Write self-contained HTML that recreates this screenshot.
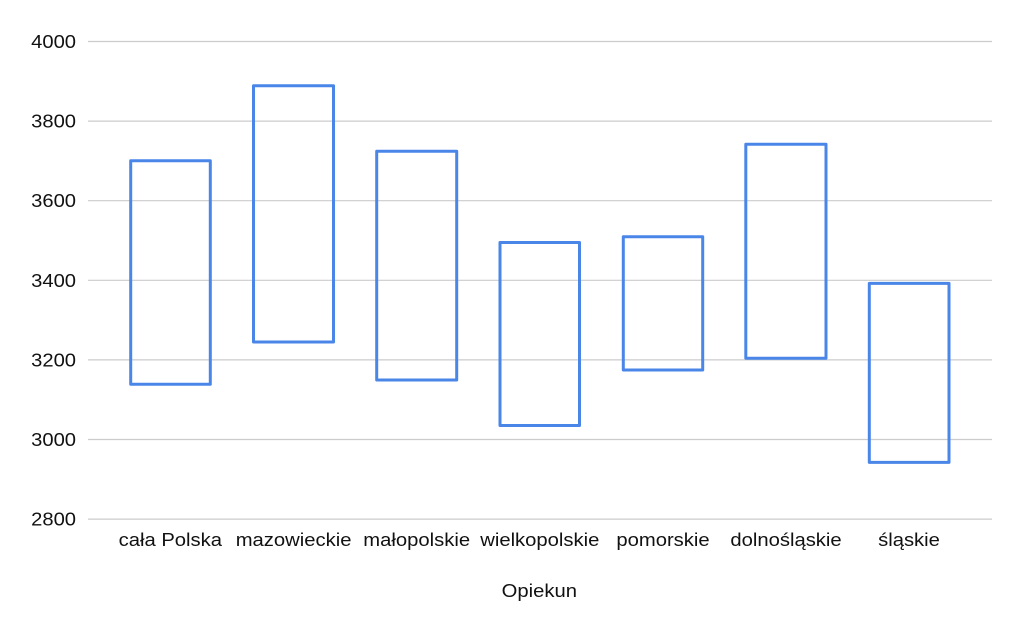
<!DOCTYPE html>
<html>
<head>
<meta charset="utf-8">
<style>
  html, body { margin: 0; padding: 0; background: #ffffff; }
  svg { display: block; }
  text { font-family: "Liberation Sans", Arial, Helvetica, sans-serif; fill: #111111; }
</style>
</head>
<body>
<svg width="1024" height="633" viewBox="0 0 1024 633" xmlns="http://www.w3.org/2000/svg">
  <rect x="0" y="0" width="1024" height="633" fill="#ffffff"/>
  <!-- gridlines -->
  <g stroke="#cccccc" stroke-width="1.2">
    <line x1="88" y1="41.5" x2="992" y2="41.5"/>
    <line x1="88" y1="121.1" x2="992" y2="121.1"/>
    <line x1="88" y1="200.7" x2="992" y2="200.7"/>
    <line x1="88" y1="280.3" x2="992" y2="280.3"/>
    <line x1="88" y1="359.9" x2="992" y2="359.9"/>
    <line x1="88" y1="439.5" x2="992" y2="439.5"/>
    <line x1="88" y1="519.1" x2="992" y2="519.1"/>
  </g>
  <!-- y-axis labels -->
  <g font-size="18.6" text-anchor="end">
    <text transform="translate(76,48) scale(1.085,1)">4000</text>
    <text transform="translate(76,127.6) scale(1.085,1)">3800</text>
    <text transform="translate(76,207.2) scale(1.085,1)">3600</text>
    <text transform="translate(76,286.8) scale(1.085,1)">3400</text>
    <text transform="translate(76,366.4) scale(1.085,1)">3200</text>
    <text transform="translate(76,446) scale(1.085,1)">3000</text>
    <text transform="translate(76,525.6) scale(1.085,1)">2800</text>
  </g>
  <!-- boxes -->
  <g fill="none" stroke="#4a86e8" stroke-width="3" stroke-linejoin="round">
    <rect x="130.7" y="160.7" width="79.6" height="223.6"/>
    <rect x="253.5" y="85.7" width="80" height="256.3"/>
    <rect x="376.7" y="151.3" width="80" height="228.7"/>
    <rect x="500" y="242.5" width="79.5" height="183"/>
    <rect x="623.3" y="236.8" width="79.4" height="133.2"/>
    <rect x="745.8" y="144.2" width="80.2" height="214.1"/>
    <rect x="869.3" y="283.4" width="79.7" height="179"/>
  </g>
  <!-- category labels -->
  <g font-size="18.6" text-anchor="middle">
    <text transform="translate(170.3,546.2) scale(1.088,1)">cała Polska</text>
    <text transform="translate(293.6,546.2) scale(1.088,1)">mazowieckie</text>
    <text transform="translate(416.7,546.2) scale(1.088,1)">małopolskie</text>
    <text transform="translate(539.8,546.2) scale(1.088,1)">wielkopolskie</text>
    <text transform="translate(663,546.2) scale(1.088,1)">pomorskie</text>
    <text transform="translate(786,546.2) scale(1.088,1)">dolnośląskie</text>
    <text transform="translate(909,546.2) scale(1.088,1)">śląskie</text>
  </g>
  <!-- axis title -->
  <text font-size="18.6" text-anchor="middle" transform="translate(539.3,597.2) scale(1.088,1)">Opiekun</text>
</svg>
</body>
</html>
